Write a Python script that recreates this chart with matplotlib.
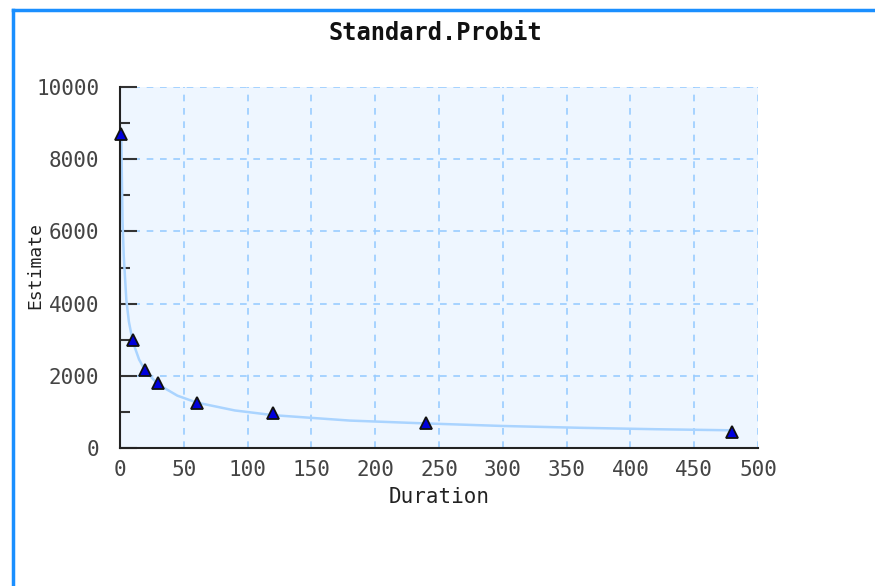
import matplotlib
matplotlib.use("Agg")
import matplotlib.pyplot as plt
from matplotlib.lines import Line2D
from matplotlib.ticker import MultipleLocator

# data
duration = [1, 10, 20, 30, 60, 120, 240, 480]
estimate = [8700, 3000, 2150, 1800, 1250, 960, 680, 450]

# fitted curve, values
fit_x = [1, 2, 3, 5, 7, 10, 15, 20, 30, 45, 60, 90, 120, 180, 240, 300, 360, 420, 480]
fit_y = [8700, 6300, 5300, 4100, 3500, 2950, 2450, 2130, 1760, 1450, 1260, 1040,
         910, 760, 680, 610, 560, 520, 490]

x_ticks = [0, 50, 100, 150, 200, 250, 300, 350, 400, 450, 500]
y_ticks = [0, 2000, 4000, 6000, 8000, 10000]

plt.rcParams['font.family'] = 'DejaVu Sans Mono'

fig = plt.figure(figsize=(8.75, 5.86), dpi=100)
ax = fig.add_axes([0.1371, 0.2355, 0.7292, 0.616])
ax.set_facecolor('#eef6ff')

ax.plot(fit_x, fit_y, color='#aad4ff', linewidth=1.8, zorder=2)
ax.plot(duration, estimate, linestyle='none', marker='^', markersize=9,
        markerfacecolor='#0000dd', markeredgecolor='#111111', markeredgewidth=1.3,
        zorder=3, clip_on=False)

ax.set_xlim(0, 500)
ax.set_ylim(0, 10000)
ax.set_xticks(x_ticks)
ax.set_yticks(y_ticks)
ax.yaxis.set_minor_locator(MultipleLocator(1000))
ax.grid(True, which='major', color='#99ccff', linestyle=(0, (4, 4)), linewidth=1.2)
ax.set_axisbelow(True)

for s in ['top', 'right']:
    ax.spines[s].set_visible(False)
for s in ['left', 'bottom']:
    ax.spines[s].set_color('#222222')
    ax.spines[s].set_linewidth(1.5)

ax.tick_params(axis='y', which='major', direction='in', length=12, width=1.5,
               color='#333333', labelsize=15, pad=15, labelcolor='#444444')
ax.tick_params(axis='y', which='minor', direction='in', length=7, width=1.5,
               color='#333333')
ax.tick_params(axis='x', length=0, labelsize=15, pad=9, labelcolor='#444444')

ax.set_xlabel("Duration", fontsize=15, color='#222222', labelpad=5)
ax.set_ylabel("Estimate", fontsize=13, color='#222222')
ax.yaxis.set_label_coords(-0.118, 0.505)

fig.text(0.497, 0.943, "Standard.Probit", ha='center', va='center',
         fontsize=17, fontweight='bold', color='#111111')

# blue frame around the chart
fig.add_artist(Line2D([12.5 / 875, 12.5 / 875], [0, 1 - 9.5 / 586],
                      transform=fig.transFigure, color='#1a8fff', linewidth=2.5))
fig.add_artist(Line2D([12.5 / 875, 1], [1 - 9.5 / 586, 1 - 9.5 / 586],
                      transform=fig.transFigure, color='#1a8fff', linewidth=2.5))

fig.savefig("out.png", dpi=100)
